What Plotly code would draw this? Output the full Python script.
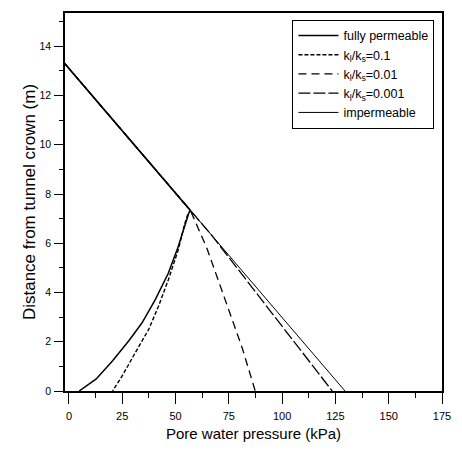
import plotly.graph_objects as go

# Data: pore water pressure (kPa) vs distance from tunnel crown (m)
names = ["fully permeable", "k<sub>l</sub>/k<sub>s</sub>=0.1", "k<sub>l</sub>/k<sub>s</sub>=0.01",
         "k<sub>l</sub>/k<sub>s</sub>=0.001", "impermeable"]

fp_p = [-2, 57, 56.2, 55.1, 51.2, 46.6, 40.5, 34.3, 28.1, 20.5, 12.8, 4.8]
fp_d = [13.3, 7.33, 7.22, 6.92, 5.85, 4.78, 3.71, 2.77, 2.04, 1.23, 0.49, 0.0]

k1_p = [-2, 57, 55.8, 54.3, 51.2, 46.6, 42.0, 37.4, 31.2, 25.1, 20.5]
k1_d = [13.3, 7.33, 7.19, 6.79, 5.71, 4.51, 3.44, 2.50, 1.57, 0.63, 0.0]

k2_p = [-2, 57, 64.8, 72.8, 81.2, 87.4]
k2_d = [13.3, 7.33, 5.78, 3.78, 1.77, 0.0]

k3_p = [-2, 57, 67.2, 78.8, 89.8, 101.2, 112.8, 123.5]
k3_d = [13.3, 7.33, 6.3, 5.0, 3.78, 2.5, 1.2, 0.0]

im_p = [-2, 57, 129.5]
im_d = [13.3, 7.33, 0.0]

x_major = [0, 25, 50, 75, 100, 125, 150, 175]
x_minor = [12.5, 37.5, 62.5, 87.5, 112.5, 137.5, 162.5]
y_major = [0, 2, 4, 6, 8, 10, 12, 14]
y_minor = [1, 3, 5, 7, 9, 11, 13, 15]

xs = [fp_p, k1_p, k2_p, k3_p, im_p]
ys = [fp_d, k1_d, k2_d, k3_d, im_d]
dashes = ["solid", "4px,2px", "8px,5px", "12px,3px", "solid"]
widths = [1.5, 1.4, 1.3, 1.3, 1.0]

fig = go.Figure()
for n, x, y, d, w in zip(names, xs, ys, dashes, widths):
    fig.add_trace(go.Scatter(x=x, y=y, mode="lines", name=n,
                             line=dict(color="black", width=w, dash=d)))

# empty helper trace so the minor-tick overlay axes get drawn
fig.add_trace(go.Scatter(x=[None], y=[None], xaxis="x2", yaxis="y2",
                         showlegend=False, hoverinfo="skip"))

font = "Liberation Sans, Arial, sans-serif"
XR = [-1.85, 175]
YR = [0, 15.35]
fig.update_layout(
    width=462, height=451,
    margin=dict(l=65, r=15, t=11, b=57),
    paper_bgcolor="white", plot_bgcolor="white",
    font=dict(family=font, color="black", size=11),
    showlegend=True,
    legend=dict(x=0.98, y=0.982, xanchor="right", yanchor="top",
                bgcolor="white", bordercolor="black", borderwidth=1,
                font=dict(size=12.5, family=font), tracegroupgap=0,
                itemwidth=40),
    xaxis=dict(
        range=XR, tickmode="array", tickvals=x_major,
        ticks="outside", ticklen=11, tickwidth=1, tickcolor="black",
        showline=True, linecolor="black", linewidth=1.5, mirror=True,
        showgrid=False, zeroline=False, ticklabelstandoff=3,
        tickfont=dict(size=11),
        title=dict(text="Pore water pressure (kPa)", font=dict(size=15), standoff=8),
    ),
    yaxis=dict(
        range=YR, tickmode="array", tickvals=y_major,
        ticks="outside", ticklen=9, tickwidth=1, tickcolor="black",
        showline=True, linecolor="black", linewidth=1.5, mirror=True,
        showgrid=False, zeroline=False, ticklabelstandoff=1,
        tickfont=dict(size=10.5),
        title=dict(text="Distance from tunnel crown (m)", font=dict(size=17), standoff=0),
    ),
    xaxis2=dict(
        range=XR, overlaying="x", anchor="y", side="bottom",
        tickmode="array", tickvals=x_minor, ticks="outside", ticklen=6,
        tickwidth=1, tickcolor="black", showticklabels=False,
        showline=False, showgrid=False, zeroline=False,
    ),
    yaxis2=dict(
        range=YR, overlaying="y", anchor="x", side="left",
        tickmode="array", tickvals=y_minor, ticks="outside", ticklen=5,
        tickwidth=1, tickcolor="black", showticklabels=False,
        showline=False, showgrid=False, zeroline=False,
    ),
)
fig.write_html("out.html", config={"displayModeBar": False},
               post_script="document.body.style.margin='0';document.body.style.padding='0';")
